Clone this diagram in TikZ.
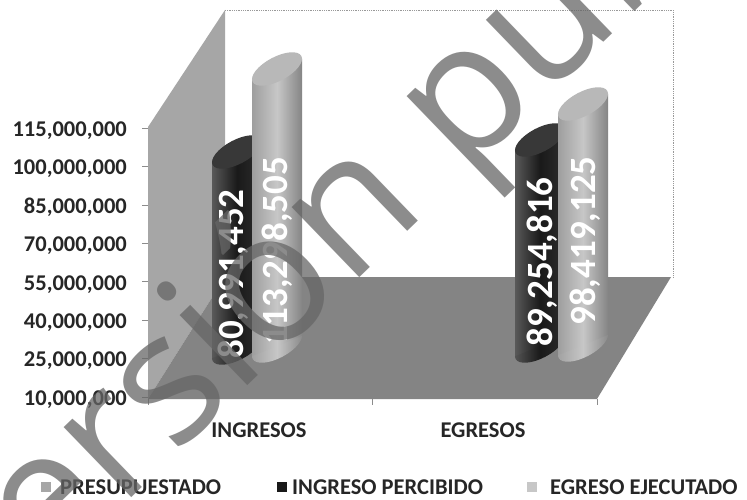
\documentclass[tikz,border=0pt]{standalone}
\usepackage{fontspec}
\setmainfont{Carlito}
\newfontfamily\wmfont{Open Sans}
\definecolor{wallc}{HTML}{A6A6A6}
\definecolor{floorc}{HTML}{848484}
\definecolor{framec}{HTML}{999999}
\tikzset{
  lab/.style={font=\bfseries\fontsize{22.5}{27}\selectfont, text=black!85, inner sep=0pt},
  barlab/.style={font=\bfseries\fontsize{37}{40}\selectfont, text=white, inner sep=0pt, rotate=90},
  wm/.style={font=\wmfont\fontsize{182}{200}\selectfont, text=black!60, opacity=0.75, inner sep=0pt},
  tickline/.style={draw=black!45, line width=0.6pt},
  frameline/.style={draw=framec, densely dotted, line width=0.8pt}
}
% #1 xc, #2 y top-centre, #3 y bottom-centre, #4 left, #5 middle, #6 right colour, #7 cap colour
\newcommand\mycyl[7]{%
  \shade[left color=#4, right color=#6, middle color=#5, rotate around={28:(#1,#3)}]
    (#1,#3) ellipse [x radius=27.6pt, y radius=12pt];
  \shade[left color=#4, right color=#6, middle color=#5]
    ({#1-25},{#2+10.2}) -- ({#1+25},{#2-10.2}) -- ({#1+25},{#3-10.2}) -- ({#1-25},{#3+10.2}) -- cycle;
  \fill[#7, rotate around={28:(#1,#2)}] (#1,#2) ellipse [x radius=27.6pt, y radius=12pt];
}
\begin{document}
\begin{tikzpicture}[x=1pt,y=-1pt]
\useasboundingbox (0,0) rectangle (747,500);
\fill[white] (0,0) rectangle (747,500);
% walls
\path[frameline] (225,10) -- (673,10) -- (673,277);
\fill[wallc] (148,127) -- (225,10) -- (225,277) -- (148,399) -- cycle;
\fill[floorc] (148,399) -- (225,277) -- (671,277) -- (597,399) -- cycle;
% ticks
\foreach \yy in {128,166.4,204.8,243.2,281.6,320,358.4,396.8}
  \draw[tickline] (142,\yy) -- (148,\yy);
\foreach \xx in {148,372,597}
  \draw[tickline] (\xx,399) -- (\xx,405);
% axis labels
\node[lab, anchor=base east] (y115) at (127,136.5) {115,000,000};
\node[lab, anchor=base east] (y100) at (127,174.9) {100,000,000};
\node[lab, anchor=base east] (y85) at (127,213.3) {85,000,000};
\node[lab, anchor=base east] (y70) at (127,251.7) {70,000,000};
\node[lab, anchor=base east] (y55) at (127,290.1) {55,000,000};
\node[lab, anchor=base east] (y40) at (127,328.5) {40,000,000};
\node[lab, anchor=base east] (y25) at (127,366.9) {25,000,000};
\node[lab, anchor=base east] (y10) at (127,405.3) {10,000,000};
% cylinders
\mycyl{237}{152}{348}{black!65}{black!90}{black!82}{black!78}
\mycyl{277}{69}{346}{black!38}{black!22}{black!48}{black!28}
\mycyl{540}{140}{346}{black!65}{black!90}{black!82}{black!78}
\mycyl{583}{104}{345}{black!38}{black!22}{black!48}{black!28}
% bar labels
\node[barlab] (v1) at (233,274) {80,991,452};
\node[barlab] (v2) at (277,251) {113,298,505};
\node[barlab] (v3) at (542,262) {89,254,816};
\node[barlab] (v4) at (585,241) {98,419,125};
% category labels
\node[lab, anchor=base] (c1) at (259,437) {INGRESOS};
\node[lab, anchor=base] (c2) at (483,437) {EGRESOS};
% legend
\fill[black!35] (41,482) rectangle (51,492);
\node[lab, anchor=base west] (l1) at (60,494.5) {PRESUPUESTADO};
\fill[black!90] (277,482) rectangle (287,492);
\node[lab, anchor=base west] (l2) at (292,494.5) {INGRESO PERCIBIDO};
\fill[black!22] (527,482) rectangle (537,492);
\node[lab, anchor=base west] (l3) at (550,494.5) {EGRESO EJECUTADO};
% watermark
\begin{scope}
\clip (0,0) rectangle (747,500);
\node[wm, rotate=44, anchor=base west] (wmk) at (-28,652) {Versión pública};
\end{scope}
\end{tikzpicture}
\end{document}
